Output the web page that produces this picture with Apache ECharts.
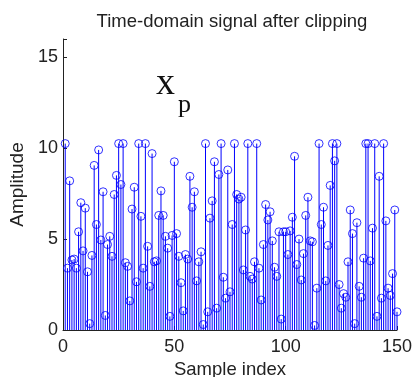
<!DOCTYPE html>
<html lang="en">
  <head>
    <meta charset="utf-8" />
    <script src="https://cdn.jsdelivr.net/npm/echarts@6/dist/echarts.min.js"></script>
  </head>
  <body style="margin: 0">
    <div id="chart" style="width: 412px; height: 377px"></div>
    <script>
      // clipped amplitudes, sample 1..150
      var amplitude = [
        10.25, 3.4, 8.2, 3.85, 3.9, 3.4, 5.4, 7.0, 4.35, 6.7,
        3.2, 0.35, 4.1, 9.05, 5.8, 9.9, 4.95, 7.6, 0.8, 4.7,
        5.15, 4.05, 7.45, 8.5, 10.25, 8.0, 10.25, 3.7, 3.5, 1.6,
        6.65, 7.85, 2.65, 10.25, 6.25, 3.4, 10.25, 4.6, 2.4, 9.7,
        3.75, 3.8, 6.3, 7.65, 6.3, 5.15, 4.5, 0.75, 5.2, 9.25,
        5.3, 4.05, 2.6, 1.05, 4.15, 3.9, 8.45, 6.75, 7.6, 2.7,
        3.75, 4.3, 0.3, 10.25, 1.0, 6.15, 7.1, 9.25, 1.2, 8.55,
        10.25, 2.9, 1.75, 8.8, 2.1, 5.8, 10.25, 7.45, 7.2, 7.3,
        3.3, 5.5, 10.25, 2.95, 2.8, 3.75, 10.25, 3.4, 1.65, 4.7,
        6.9, 6.05, 6.5, 4.9, 3.45, 2.95, 5.4, 0.6, 5.4, 5.4,
        4.15, 5.45, 6.2, 9.55, 3.6, 5.0, 2.75, 4.2, 6.3, 7.3,
        4.9, 4.85, 0.25, 2.3, 10.25, 5.8, 6.75, 2.7, 4.65, 7.95,
        10.25, 9.3, 10.25, 2.5, 1.2, 2.0, 1.8, 3.75, 6.6, 5.3,
        0.35, 5.9, 2.4, 1.8, 3.95, 10.25, 10.25, 3.8, 5.6, 10.25,
        0.75, 8.45, 1.75, 10.25, 6.0, 2.3, 1.9, 3.1, 6.6, 1.0
      ];
      var sampleIndex = amplitude.map(function (v, i) { return i + 1; });
      var xTicks = [0, 50, 100, 150];
      var yTicks = [0, 5, 10, 15];

      var points = sampleIndex.map(function (n, i) { return [n, amplitude[i]]; });
      var blue = "#0000ff";
      var font = "Liberation Sans";

      var chart = echarts.init(document.getElementById("chart"));
      chart.setOption({
        animation: false,
        backgroundColor: "#fff",
        title: {
          text: "Time-domain signal after clipping",
          left: 227,
          top: 7,
          textAlign: "center",
          textStyle: { fontFamily: font, fontSize: 18.5, fontWeight: "normal", color: "#222" }
        },
        grid: { left: 63, right: 15, top: 39, bottom: 47, outerBoundsMode: "none" },
        xAxis: {
          type: "value",
          min: 0,
          max: 150,
          interval: 50,
          name: "Sample index",
          nameLocation: "middle",
          nameGap: 25,
          nameTextStyle: { fontFamily: font, fontSize: 18.5, color: "#222" },
          splitLine: { show: false },
          axisLine: { lineStyle: { color: "#222", width: 1 } },
          axisTick: { inside: true, length: 4, lineStyle: { color: "#222" } },
          axisLabel: {
            fontFamily: font, fontSize: 18, color: "#222", margin: 8,
            formatter: function (v) { return xTicks.indexOf(v) >= 0 ? String(v) : ""; }
          }
        },
        yAxis: {
          type: "value",
          min: 0,
          max: 16,
          interval: 5,
          name: "Amplitude",
          nameLocation: "middle",
          nameGap: 23,
          nameTextStyle: { fontFamily: font, fontSize: 19, color: "#222" },
          splitLine: { show: false },
          axisLine: { show: true, lineStyle: { color: "#222", width: 1 } },
          axisTick: { inside: true, length: 4, lineStyle: { color: "#222" } },
          axisLabel: {
            fontFamily: font, fontSize: 18, color: "#222", margin: 5,
            formatter: function (v) { return yTicks.indexOf(v) >= 0 ? String(v) : ""; }
          }
        },
        graphic: [
          {
            type: "text",
            left: 156,
            top: 65,
            style: { text: "x", font: "38px 'Liberation Serif'", fill: "#111" }
          },
          {
            type: "text",
            left: 178,
            top: 92,
            style: { text: "p", font: "26px 'Liberation Serif'", fill: "#111" }
          }
        ],
        series: [
          {
            type: "custom",
            data: points,
            renderItem: function (params, api) {
              var top = api.coord([api.value(0), api.value(1)]);
              var base = api.coord([api.value(0), 0]);
              return {
                type: "line",
                shape: { x1: top[0], y1: top[1], x2: base[0], y2: base[1] },
                style: { stroke: blue, lineWidth: 1 }
              };
            },
            z: 2
          },
          {
            type: "scatter",
            data: points,
            symbol: "circle",
            symbolSize: 8,
            itemStyle: { color: "rgba(0,0,0,0)", borderColor: blue, borderWidth: 1 },
            z: 3
          }
        ]
      });
    </script>
  </body>
</html>
